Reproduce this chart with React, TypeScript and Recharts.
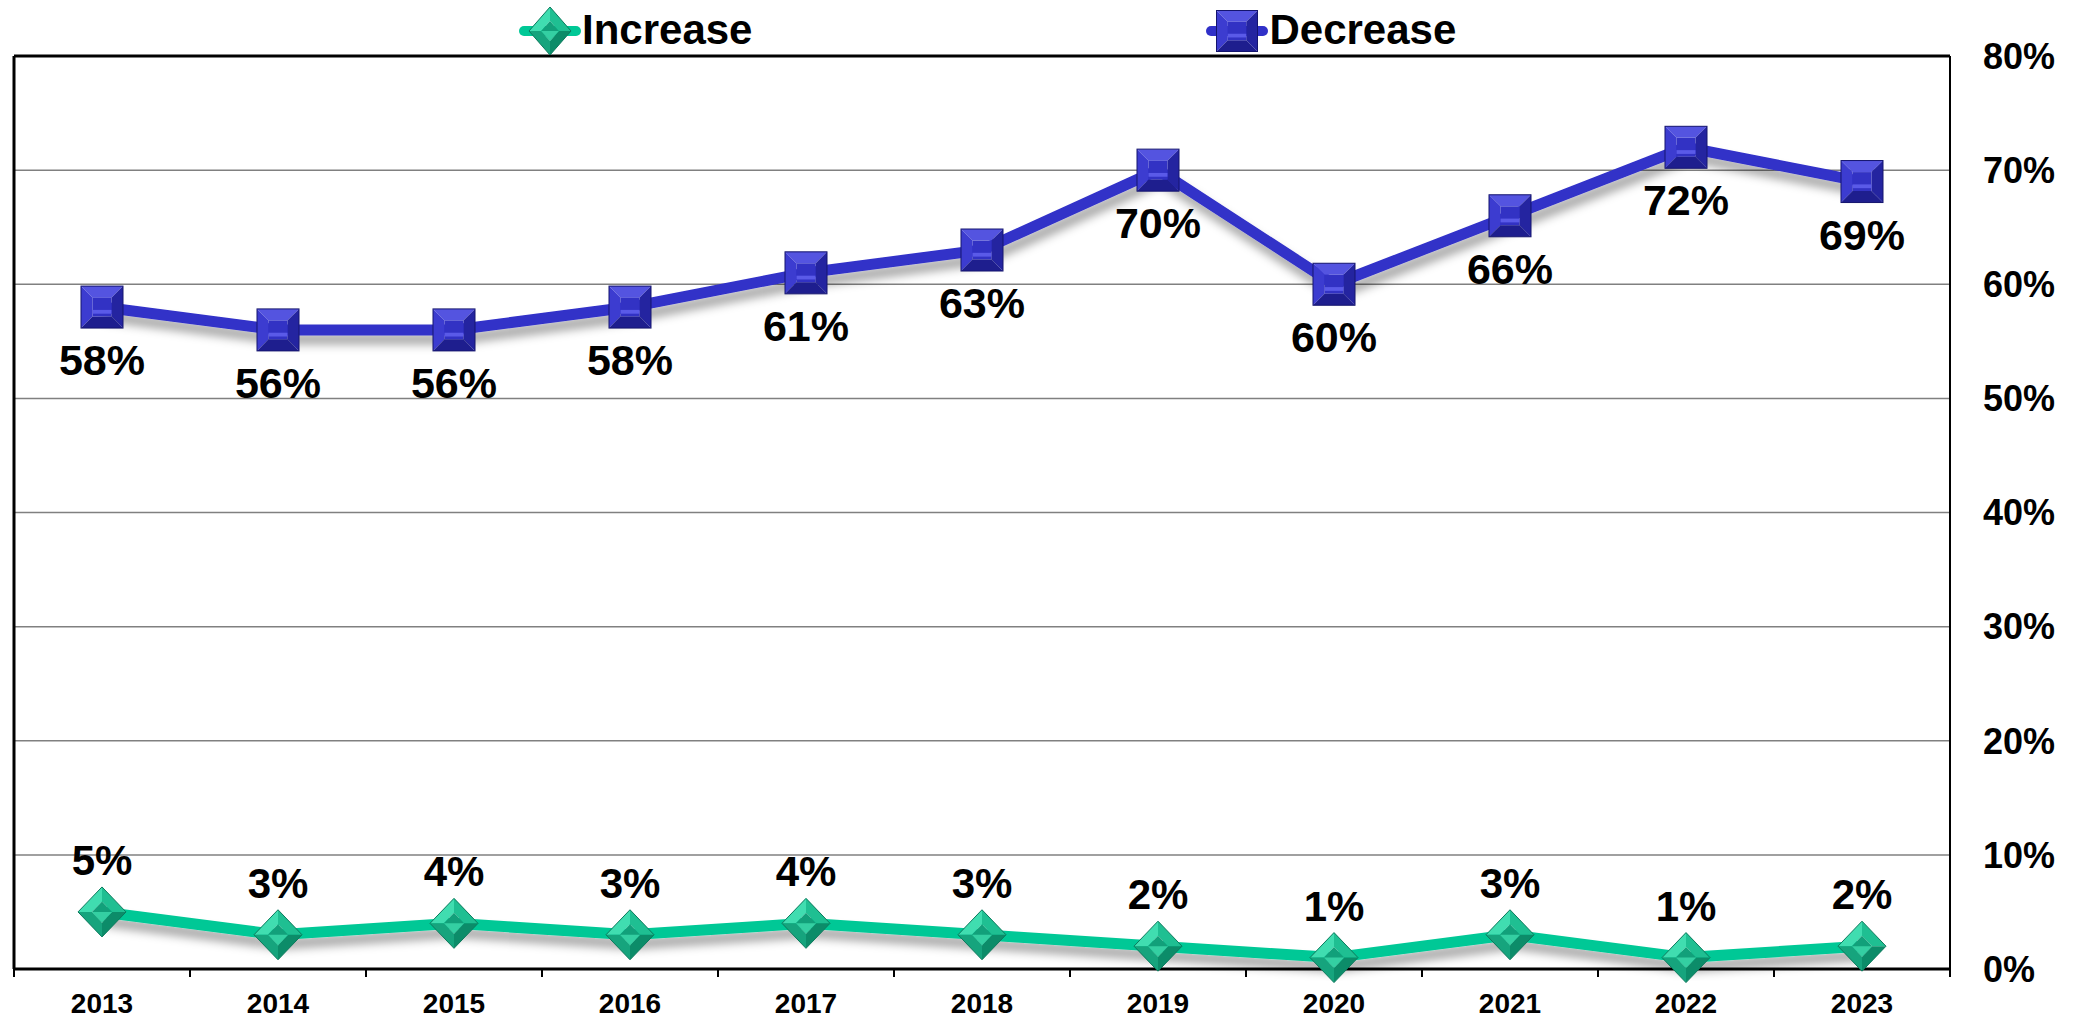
import React from "react";
import {
  CartesianGrid,
  LabelList,
  Legend,
  Line,
  LineChart,
  ReferenceLine,
  XAxis,
  YAxis,
} from "recharts";

const years = ["2013", "2014", "2015", "2016", "2017", "2018", "2019", "2020", "2021", "2022", "2023"];
const increaseValues = [5, 3, 4, 3, 4, 3, 2, 1, 3, 1, 2];
const decreaseValues = [58, 56, 56, 58, 61, 63, 70, 60, 66, 72, 69];
const percentTicks = [0, 10, 20, 30, 40, 50, 60, 70, 80];

const WIDTH = 2082;
const HEIGHT = 1021;
const LEFT_AXIS_W = 14;
const RIGHT_AXIS_W = 132;
const X_AXIS_H = 52;
const LEGEND_H = 56;
const BAND = (WIDTH - LEFT_AXIS_W - RIGHT_AXIS_W) / years.length;

const FONT = '"Liberation Sans", Arial, Helvetica, sans-serif';
const TEAL = "#00C896";
const BLUE = "#3030C8";

const data = years.map((year, i) => ({
  year,
  increase: increaseValues[i],
  decrease: decreaseValues[i],
}));

const pts = (list: number[][]) => list.map((p) => p.join(",")).join(" ");

function DiamondMark({ cx, cy, rx = 24, ry = 25 }: { cx: number; cy: number; rx?: number; ry?: number }) {
  const ix = rx * 0.42;
  const iy = ry * 0.42;
  const T = [cx, cy - ry];
  const R = [cx + rx, cy];
  const B = [cx, cy + ry];
  const L = [cx - rx, cy];
  const t = [cx, cy - iy];
  const r = [cx + ix, cy];
  const b = [cx, cy + iy];
  const l = [cx - ix, cy];
  return (
    <g>
      <polygon points={pts([L, T, t, l])} fill="#40DDB0" />
      <polygon points={pts([T, R, r, t])} fill="#1FBF92" />
      <polygon points={pts([R, B, b, r])} fill="#0C8C69" />
      <polygon points={pts([B, L, l, b])} fill="#16A47D" />
      <polygon points={pts([t, r, b, l])} fill="#12A07A" />
      <polygon points={pts([l, b, r])} fill="#34CFA2" />
      <polygon points={pts([T, R, B, L])} fill="none" stroke="#0A7A5C" strokeWidth={1} />
    </g>
  );
}

function SquareMark({ cx, cy, s = 21 }: { cx: number; cy: number; s?: number }) {
  const i = s * 0.45;
  const TL = [cx - s, cy - s];
  const TR = [cx + s, cy - s];
  const BR = [cx + s, cy + s];
  const BL = [cx - s, cy + s];
  const tl = [cx - i, cy - i];
  const tr = [cx + i, cy - i];
  const br = [cx + i, cy + i];
  const bl = [cx - i, cy + i];
  return (
    <g>
      <polygon points={pts([TL, TR, tr, tl])} fill="#5454E0" />
      <polygon points={pts([TL, tl, bl, BL])} fill="#3C3CD0" />
      <polygon points={pts([TR, BR, br, tr])} fill="#2424A0" />
      <polygon points={pts([BL, bl, br, BR])} fill="#1E1E8E" />
      <rect x={cx - i} y={cy - i} width={i * 2} height={i * 2} fill="#3232C4" />
      <rect x={cx - i} y={cy + i * 0.3} width={i * 2} height={i * 0.4} fill="#5A5AE8" />
      <rect x={cx - s} y={cy - s} width={s * 2} height={s * 2} fill="none" stroke="#14146E" strokeWidth={1} />
    </g>
  );
}

function renderDiamondDot(props: any) {
  const { cx, cy, index } = props;
  return <DiamondMark key={`inc-${index}`} cx={cx} cy={cy} />;
}

function renderSquareDot(props: any) {
  const { cx, cy, index } = props;
  return <SquareMark key={`dec-${index}`} cx={cx} cy={cy} />;
}

function AboveLabel(props: any) {
  const x = Number(props.x);
  const y = Number(props.y);
  return (
    <text x={x} y={y - 37} textAnchor="middle" fontFamily={FONT} fontWeight="bold" fontSize={42} fill="#000">
      {props.value}%
    </text>
  );
}

function BelowLabel(props: any) {
  const x = Number(props.x);
  const y = Number(props.y);
  return (
    <text x={x} y={y + 68} textAnchor="middle" fontFamily={FONT} fontWeight="bold" fontSize={43} fill="#000">
      {props.value}%
    </text>
  );
}

function YearTick(props: any) {
  const { x, y, payload, index } = props;
  const half = BAND / 2;
  return (
    <g>
      <line x1={x - half} x2={x - half} y1={y} y2={y + 8} stroke="#000" strokeWidth={2} />
      {index === years.length - 1 && (
        <line x1={x + half} x2={x + half} y1={y} y2={y + 8} stroke="#000" strokeWidth={2} />
      )}
      <text x={x} y={y + 44} textAnchor="middle" fontFamily={FONT} fontWeight="bold" fontSize={28} fill="#000">
        {payload.value}
      </text>
    </g>
  );
}

function LegendIcon({ kind }: { kind: "diamond" | "square" }) {
  const color = kind === "diamond" ? TEAL : BLUE;
  return (
    <svg width={64} height={LEGEND_H} style={{ display: "block" }}>
      <line x1={6} x2={58} y1={31} y2={31} stroke={color} strokeWidth={10} strokeLinecap="round" />
      {kind === "diamond" ? <DiamondMark cx={32} cy={31} rx={21} ry={24} /> : <SquareMark cx={32} cy={31} s={20.5} />}
    </svg>
  );
}

function renderLegend() {
  const items: Array<{ name: string; kind: "diamond" | "square" }> = [
    { name: "Increase", kind: "diamond" },
    { name: "Decrease", kind: "square" },
  ];
  return (
    <div
      style={{
        height: LEGEND_H,
        display: "flex",
        alignItems: "flex-start",
        paddingLeft: 518,
        gap: 453,
        boxSizing: "border-box",
      }}
    >
      {items.map((item) => (
        <div key={item.name} style={{ display: "flex", alignItems: "flex-start" }}>
          <LegendIcon kind={item.kind} />
          <span
            style={{
              fontFamily: FONT,
              fontWeight: "bold",
              fontSize: 42,
              lineHeight: `${LEGEND_H}px`,
              position: "relative",
              top: 2,
              color: "#000",
            }}
          >
            {item.name}
          </span>
        </div>
      ))}
    </div>
  );
}

export default function App() {
  return (
    <div style={{ position: "absolute", left: 0, top: 0, width: WIDTH, height: HEIGHT, background: "#fff" }}>
      <svg width={0} height={0} style={{ position: "absolute" }}>
        <defs>
          <filter id="lineShadow" x="-5%" y="-50%" width="110%" height="200%">
            <feDropShadow dx={3} dy={9} stdDeviation={5} floodColor="#000" floodOpacity={0.35} />
          </filter>
        </defs>
      </svg>
      <LineChart width={WIDTH} height={HEIGHT} data={data} margin={{ top: 0, right: 0, bottom: 0, left: 0 }}>
        <Legend verticalAlign="top" align="center" content={renderLegend} />
        <CartesianGrid yAxisId="right" vertical={false} stroke="#808080" strokeWidth={1.5} />
        <XAxis
          dataKey="year"
          interval={0}
          height={X_AXIS_H}
          padding={{ left: BAND / 2, right: BAND / 2 }}
          tickLine={false}
          tickSize={0}
          tickMargin={0}
          axisLine={{ stroke: "#000", strokeWidth: 3 }}
          tick={YearTick}
        />
        <YAxis
          yAxisId="left"
          orientation="left"
          width={LEFT_AXIS_W}
          domain={[0, 80]}
          ticks={percentTicks}
          tick={false}
          tickSize={6}
          tickLine={{ stroke: "#000", strokeWidth: 2 }}
          axisLine={{ stroke: "#000", strokeWidth: 3 }}
        />
        <YAxis
          yAxisId="right"
          orientation="right"
          width={RIGHT_AXIS_W}
          domain={[0, 80]}
          ticks={percentTicks}
          tickFormatter={(v: number) => `${v}%`}
          tickLine={false}
          tickSize={0}
          tickMargin={33}
          axisLine={{ stroke: "#000", strokeWidth: 2 }}
          tick={{ fontFamily: FONT, fontWeight: "bold", fontSize: 36, fill: "#000" }}
        />
        <ReferenceLine yAxisId="right" y={80} stroke="#000" strokeWidth={3} />
        <Line
          yAxisId="right"
          type="linear"
          dataKey="increase"
          name="Increase"
          stroke={TEAL}
          strokeWidth={11}
          filter="url(#lineShadow)"
          dot={renderDiamondDot}
          activeDot={false}
          isAnimationActive={false}
        >
          <LabelList dataKey="increase" content={AboveLabel} />
        </Line>
        <Line
          yAxisId="right"
          type="linear"
          dataKey="decrease"
          name="Decrease"
          stroke={BLUE}
          strokeWidth={11}
          filter="url(#lineShadow)"
          dot={renderSquareDot}
          activeDot={false}
          isAnimationActive={false}
        >
          <LabelList dataKey="decrease" content={BelowLabel} />
        </Line>
      </LineChart>
    </div>
  );
}
